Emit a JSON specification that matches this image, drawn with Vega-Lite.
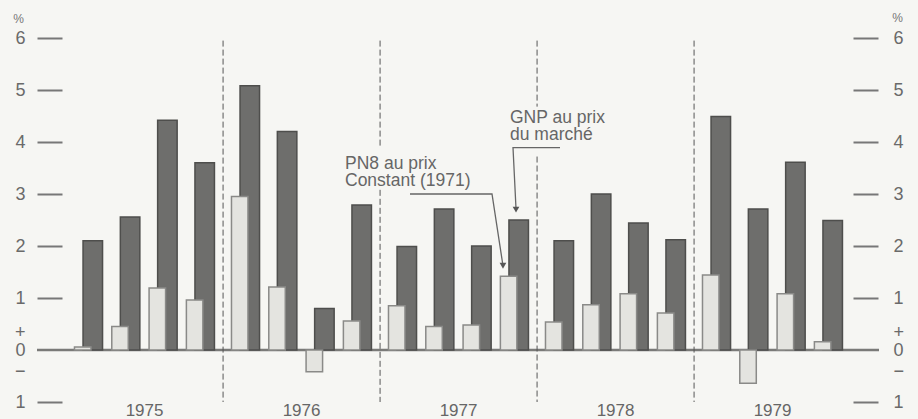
{
  "$schema": "https://vega.github.io/schema/vega-lite/v6.json",
  "width": 842,
  "height": 364,
  "autosize": "none",
  "padding": {"left": 37, "right": 39, "top": 38, "bottom": 17},
  "background": "#f6f6f3",
  "config": {"view": {"stroke": null}, "font": "Liberation Sans"},
  "datasets": {
    "growth": [
      {"year": 1975, "quarter": "Q1", "series": "PNB au prix constant (1971)", "value": 0.06},
      {"year": 1975, "quarter": "Q2", "series": "PNB au prix constant (1971)", "value": 0.45},
      {"year": 1975, "quarter": "Q3", "series": "PNB au prix constant (1971)", "value": 1.19},
      {"year": 1975, "quarter": "Q4", "series": "PNB au prix constant (1971)", "value": 0.96},
      {"year": 1976, "quarter": "Q1", "series": "PNB au prix constant (1971)", "value": 2.95},
      {"year": 1976, "quarter": "Q2", "series": "PNB au prix constant (1971)", "value": 1.21},
      {"year": 1976, "quarter": "Q3", "series": "PNB au prix constant (1971)", "value": -0.42},
      {"year": 1976, "quarter": "Q4", "series": "PNB au prix constant (1971)", "value": 0.56},
      {"year": 1977, "quarter": "Q1", "series": "PNB au prix constant (1971)", "value": 0.85},
      {"year": 1977, "quarter": "Q2", "series": "PNB au prix constant (1971)", "value": 0.45},
      {"year": 1977, "quarter": "Q3", "series": "PNB au prix constant (1971)", "value": 0.48},
      {"year": 1977, "quarter": "Q4", "series": "PNB au prix constant (1971)", "value": 1.42},
      {"year": 1978, "quarter": "Q1", "series": "PNB au prix constant (1971)", "value": 0.54},
      {"year": 1978, "quarter": "Q2", "series": "PNB au prix constant (1971)", "value": 0.87},
      {"year": 1978, "quarter": "Q3", "series": "PNB au prix constant (1971)", "value": 1.08},
      {"year": 1978, "quarter": "Q4", "series": "PNB au prix constant (1971)", "value": 0.71},
      {"year": 1979, "quarter": "Q1", "series": "PNB au prix constant (1971)", "value": 1.44},
      {"year": 1979, "quarter": "Q2", "series": "PNB au prix constant (1971)", "value": -0.64},
      {"year": 1979, "quarter": "Q3", "series": "PNB au prix constant (1971)", "value": 1.08},
      {"year": 1979, "quarter": "Q4", "series": "PNB au prix constant (1971)", "value": 0.16},
      {"year": 1975, "quarter": "Q1", "series": "GNP au prix du marché", "value": 2.10},
      {"year": 1975, "quarter": "Q2", "series": "GNP au prix du marché", "value": 2.56},
      {"year": 1975, "quarter": "Q3", "series": "GNP au prix du marché", "value": 4.42},
      {"year": 1975, "quarter": "Q4", "series": "GNP au prix du marché", "value": 3.60},
      {"year": 1976, "quarter": "Q1", "series": "GNP au prix du marché", "value": 5.08},
      {"year": 1976, "quarter": "Q2", "series": "GNP au prix du marché", "value": 4.20},
      {"year": 1976, "quarter": "Q3", "series": "GNP au prix du marché", "value": 0.80},
      {"year": 1976, "quarter": "Q4", "series": "GNP au prix du marché", "value": 2.79},
      {"year": 1977, "quarter": "Q1", "series": "GNP au prix du marché", "value": 1.99},
      {"year": 1977, "quarter": "Q2", "series": "GNP au prix du marché", "value": 2.71},
      {"year": 1977, "quarter": "Q3", "series": "GNP au prix du marché", "value": 2.00},
      {"year": 1977, "quarter": "Q4", "series": "GNP au prix du marché", "value": 2.50},
      {"year": 1978, "quarter": "Q1", "series": "GNP au prix du marché", "value": 2.10},
      {"year": 1978, "quarter": "Q2", "series": "GNP au prix du marché", "value": 3.00},
      {"year": 1978, "quarter": "Q3", "series": "GNP au prix du marché", "value": 2.44},
      {"year": 1978, "quarter": "Q4", "series": "GNP au prix du marché", "value": 2.12},
      {"year": 1979, "quarter": "Q1", "series": "GNP au prix du marché", "value": 4.49},
      {"year": 1979, "quarter": "Q2", "series": "GNP au prix du marché", "value": 2.71},
      {"year": 1979, "quarter": "Q3", "series": "GNP au prix du marché", "value": 3.61},
      {"year": 1979, "quarter": "Q4", "series": "GNP au prix du marché", "value": 2.49}
    ],
    "yearBreaks": [
      {"year": 1976, "from": 5.95, "to": -1.0},
      {"year": 1977, "from": 5.95, "to": 3.91},
      {"year": 1977, "from": 3.08, "to": -1.0},
      {"year": 1978, "from": 5.95, "to": 4.68},
      {"year": 1978, "from": 3.72, "to": -1.0},
      {"year": 1979, "from": 5.95, "to": -1.0}
    ],
    "labels": [
      {"t": 1976.7765, "v": 3.487, "label": "PN8 au prix\nConstant (1971)"},
      {"t": 1977.8275, "v": 4.371, "label": "GNP au prix\ndu marché"}
    ],
    "leaders": [
      {"id": "pnb", "ord": 1, "t": 1977.1904, "v": 3.0},
      {"id": "pnb", "ord": 2, "t": 1977.7128, "v": 3.0},
      {"id": "pnb", "ord": 3, "t": 1977.7828, "v": 1.62},
      {"id": "gnp", "ord": 1, "t": 1978.1459, "v": 3.89},
      {"id": "gnp", "ord": 2, "t": 1977.8466, "v": 3.89},
      {"id": "gnp", "ord": 3, "t": 1977.8657, "v": 2.72}
    ],
    "arrows": [
      {"t": 1977.7828, "v": 1.62},
      {"t": 1977.8657, "v": 2.70}
    ]
  },
  "layer": [
    {
      "data": {"values": [{"v": 0}]},
      "mark": {"type": "rule", "stroke": "#7a7a78", "strokeWidth": 2.5},
      "encoding": {
        "y": {"field": "v", "type": "quantitative", "scale": {"domain": [-1, 6], "nice": false, "zero": false}, "axis": null}
      }
    },
    {
      "data": {"name": "yearBreaks"},
      "mark": {"type": "rule", "stroke": "#555", "strokeWidth": 1, "strokeDash": [6, 3]},
      "encoding": {
        "x": {"field": "year", "type": "ordinal", "bandPosition": 0, "scale": {"domain": [1975, 1976, 1977, 1978, 1979], "paddingInner": 0, "paddingOuter": 0.1815, "align": 0.51}, "axis": null},
        "y": {"field": "from", "type": "quantitative", "scale": {"domain": [-1, 6], "nice": false, "zero": false}, "axis": null},
        "y2": {"field": "to"}
      }
    },
    {
      "data": {"name": "growth"},
      "transform": [{"filter": "datum.series == 'GNP au prix du marché'"}],
      "mark": {"type": "bar", "width": 19.5, "fill": "#6e6e6c", "stroke": "#4e4e4c", "strokeWidth": 1.5},
      "encoding": {
        "x": {"field": "year", "type": "ordinal", "scale": {"domain": [1975, 1976, 1977, 1978, 1979], "paddingInner": 0, "paddingOuter": 0.1815, "align": 0.51},
          "axis": {"orient": "bottom", "ticks": false, "domain": false, "labelAngle": 0, "labelFontSize": 17, "labelFont": "Liberation Sans", "labelColor": "#666", "labelPadding": 13.5, "labelBaseline": "alphabetic", "title": null}},
        "xOffset": {"field": "quarter", "type": "ordinal", "scale": {"domain": ["Q1", "Q2", "Q3", "Q4"], "paddingInner": 0.3, "paddingOuter": 0.2545, "align": 0.72}},
        "y": {"field": "value", "type": "quantitative", "scale": {"domain": [-1, 6], "nice": false, "zero": false},
          "axis": {"orient": "right", "values": [-1, -0.41, 0, 0.34, 1, 2, 3, 4, 5, 6], "format": ".0f",
            "labelExpr": "datum.value == 0.34 ? '+' : datum.value == -0.41 ? '−' : datum.value == -1 ? '1' : datum.label",
            "offset": -26, "tickSize": 25, "tickWidth": 2, "tickColor": "#777",
            "tickOpacity": {"condition": {"test": "datum.value == 0 || datum.value == 0.34 || datum.value == -0.41", "value": 0}, "value": 1},
            "domain": false, "grid": false, "labelOverlap": false, "labelBound": false, "labelPadding": 15, "labelAlign": "left",
            "labelFontSize": 18, "labelFont": "Liberation Sans", "labelColor": "#6a6a6a",
            "title": "%", "titleAngle": 0, "titleX": 44, "titleY": -21, "titleFontSize": 12, "titleFontWeight": "normal", "titleColor": "#777", "titleAlign": "center", "titleBaseline": "middle"}},
        "y2": {"datum": 0}
      }
    },
    {
      "data": {"name": "growth"},
      "transform": [{"filter": "datum.series == 'PNB au prix constant (1971)'"}],
      "mark": {"type": "bar", "width": 16.5, "fill": "#e4e4e0", "stroke": "#8a8a88", "strokeWidth": 1.5},
      "encoding": {
        "x": {"field": "year", "type": "ordinal", "scale": {"domain": [1975, 1976, 1977, 1978, 1979], "paddingInner": 0, "paddingOuter": 0.1815, "align": 0.51}, "axis": null},
        "xOffset": {"field": "quarter", "type": "ordinal", "scale": {"domain": ["Q1", "Q2", "Q3", "Q4"], "paddingInner": 0.3, "paddingOuter": 0.2545, "align": 0.19}},
        "y": {"field": "value", "type": "quantitative", "scale": {"domain": [-1, 6], "nice": false, "zero": false},
          "axis": {"orient": "left", "values": [-1, -0.41, 0, 0.34, 1, 2, 3, 4, 5, 6], "format": ".0f",
            "labelExpr": "datum.value == 0.34 ? '+' : datum.value == -0.41 ? '−' : datum.value == -1 ? '1' : datum.label",
            "offset": -25, "tickSize": 25, "tickWidth": 2, "tickColor": "#777",
            "tickOpacity": {"condition": {"test": "datum.value == 0 || datum.value == 0.34 || datum.value == -0.41", "value": 0}, "value": 1},
            "domain": false, "grid": false, "labelOverlap": false, "labelBound": false, "labelPadding": 12,
            "labelFontSize": 18, "labelFont": "Liberation Sans", "labelColor": "#6a6a6a",
            "title": "%", "titleAngle": 0, "titleX": -44, "titleY": -20, "titleFontSize": 12, "titleFontWeight": "normal", "titleColor": "#777", "titleAlign": "center", "titleBaseline": "middle"}},
        "y2": {"datum": 0}
      }
    },
    {
      "data": {"name": "leaders"},
      "mark": {"type": "line", "stroke": "#666", "strokeWidth": 1.3},
      "encoding": {
        "x": {"field": "t", "type": "quantitative", "scale": {"domain": [1974.8147, 1980.1778], "nice": false, "zero": false}, "axis": null},
        "y": {"field": "v", "type": "quantitative", "scale": {"domain": [-1, 6], "nice": false, "zero": false}, "axis": null},
        "detail": {"field": "id"},
        "order": {"field": "ord"}
      }
    },
    {
      "data": {"name": "arrows"},
      "mark": {"type": "point", "shape": "triangle-down", "filled": true, "size": 45, "color": "#555", "opacity": 1},
      "encoding": {
        "x": {"field": "t", "type": "quantitative", "scale": {"domain": [1974.8147, 1980.1778], "nice": false, "zero": false}, "axis": null},
        "y": {"field": "v", "type": "quantitative", "scale": {"domain": [-1, 6], "nice": false, "zero": false}, "axis": null}
      }
    },
    {
      "data": {"name": "labels"},
      "mark": {"type": "text", "align": "left", "baseline": "alphabetic", "lineBreak": "\n", "lineHeight": 17, "fontSize": 17.5, "font": "Liberation Sans", "color": "#666"},
      "encoding": {
        "x": {"field": "t", "type": "quantitative", "scale": {"domain": [1974.8147, 1980.1778], "nice": false, "zero": false}, "axis": null},
        "y": {"field": "v", "type": "quantitative", "scale": {"domain": [-1, 6], "nice": false, "zero": false}, "axis": null},
        "text": {"field": "label"}
      }
    }
  ],
  "resolve": {"scale": {"x": "independent", "y": "independent", "xOffset": "independent"}, "axis": {"x": "independent", "y": "independent"}}
}
